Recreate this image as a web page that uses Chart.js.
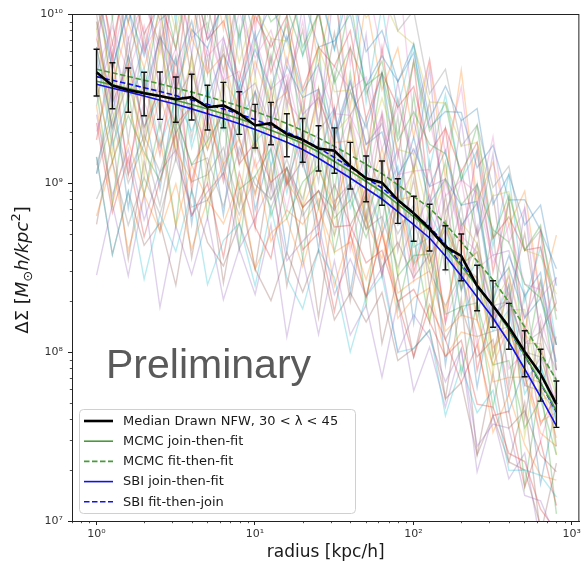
<!DOCTYPE html>
<html>
<head>
<meta charset="utf-8">
<script src="https://cdn.jsdelivr.net/npm/chart.js@4/dist/chart.umd.min.js"></script>
<style>
  html, body { margin: 0; padding: 0; background: #fff; }
  #wrap { width: 584px; height: 564px; }
</style>
</head>
<body>
<div id="wrap"><canvas id="profile" width="584" height="564"></canvas></div>
<script>
// radii (kpc/h), 30 bins from 1 to 800
const radius = [1.0, 1.259, 1.586, 1.997, 2.514, 3.166, 3.986, 5.019, 6.322, 7.961,
  10.03, 12.62, 15.90, 20.02, 25.21, 31.74, 39.97, 50.33, 63.38, 79.81,
  100.5, 126.6, 159.4, 200.7, 252.7, 318.3, 400.8, 504.7, 635.5, 800];

// median of the drawn NFW profiles, with its error bar ends
const medianDrawn = [4.52e9, 3.77e9, 3.55e9, 3.40e9, 3.27e9, 3.13e9, 3.22e9, 2.81e9, 2.88e9, 2.58e9,
  2.19e9, 2.26e9, 1.95e9, 1.80e9, 1.60e9, 1.55e9, 1.26e9, 1.066e9, 1.004e9, 7.93e8,
  6.62e8, 5.36e8, 4.20e8, 3.70e8, 2.46e8, 1.877e8, 1.411e8, 1.004e8, 7.41e7, 4.92e7];
const medianHigh = [6.18e9, 5.15e9, 4.79e9, 4.52e9, 4.54e9, 4.24e9, 4.40e9, 3.79e9, 3.94e9, 3.47e9,
  2.92e9, 3.00e9, 2.57e9, 2.41e9, 2.18e9, 2.12e9, 1.74e9, 1.445e9, 1.35e9, 1.06e9,
  8.34e8, 7.48e8, 5.59e8, 4.99e8, 3.26e8, 2.64e8, 1.94e8, 1.337e8, 1.038e8, 6.74e7];
const medianLow = [3.27e9, 2.75e9, 2.62e9, 2.50e9, 2.38e9, 2.29e9, 2.36e9, 2.06e9, 2.12e9, 1.94e9,
  1.61e9, 1.685e9, 1.43e9, 1.326e9, 1.178e9, 1.141e9, 9.21e8, 7.75e8, 7.38e8, 5.77e8,
  4.52e8, 3.96e8, 3.06e8, 2.64e8, 1.756e8, 1.40e8, 1.038e8, 7.14e7, 5.12e7, 3.58e7];

// fitted profiles
const mcmcJoinThenFit = [4.00e9, 3.81e9, 3.62e9, 3.44e9, 3.26e9, 3.09e9, 2.915e9, 2.74e9, 2.57e9, 2.40e9,
  2.225e9, 2.053e9, 1.884e9, 1.713e9, 1.526e9, 1.34e9, 1.175e9, 1.021e9, 8.88e8, 7.51e8,
  6.32e8, 5.27e8, 4.18e8, 3.23e8, 2.46e8, 1.872e8, 1.364e8, 9.60e7, 6.58e7, 4.48e7];
const mcmcFitThenFit = [4.71e9, 4.49e9, 4.27e9, 4.06e9, 3.86e9, 3.65e9, 3.45e9, 3.25e9, 3.05e9, 2.85e9,
  2.65e9, 2.45e9, 2.25e9, 2.045e9, 1.847e9, 1.647e9, 1.463e9, 1.289e9, 1.137e9, 9.76e8,
  8.32e8, 7.11e8, 5.72e8, 4.48e8, 3.455e8, 2.67e8, 1.977e8, 1.406e8, 9.86e7, 6.83e7];
const sbiJoinThenFit = [3.84e9, 3.64e9, 3.46e9, 3.27e9, 3.09e9, 2.92e9, 2.745e9, 2.57e9, 2.405e9, 2.24e9,
  2.07e9, 1.905e9, 1.74e9, 1.578e9, 1.40e9, 1.227e9, 1.07e9, 9.28e8, 8.04e8, 6.78e8,
  5.68e8, 4.73e8, 3.70e8, 2.82e8, 2.116e8, 1.589e8, 1.146e8, 7.93e7, 5.42e7, 3.65e7];
const sbiFitThenJoin = [4.26e9, 4.05e9, 3.86e9, 3.66e9, 3.48e9, 3.29e9, 3.10e9, 2.92e9, 2.74e9, 2.56e9,
  2.37e9, 2.185e9, 2.00e9, 1.816e9, 1.613e9, 1.415e9, 1.237e9, 1.074e9, 9.32e8, 7.87e8,
  6.60e8, 5.51e8, 4.33e8, 3.31e8, 2.49e8, 1.882e8, 1.364e8, 9.49e7, 6.52e7, 4.42e7];

// individual drawn profiles, as deviations from the median in 0.01 dex
const drawOffsets = [
  [55,10,48,22,60,5,40,35,62,12,45,20,58,28,50,8,44,30,65,15,38,25,57,18,49,3,42,33,60,20],
  [-5,-45,-10,-38,0,-30,-50,-8,-35,-15,-42,2,-28,-40,-12,-33,5,-25,-45,-2,-30,-10,-38,8,-20,-35,0,-15,-28,-5],
  [85,40,95,50,70,30,88,45,100,60,75,35,92,55,80,42,98,50,72,38,90,58,85,45,95,40,78,60,88,50],
  [-30,-75,-40,-85,-50,-20,-70,-45,-90,-35,-60,-80,-25,-65,-50,-95,-40,-70,-30,-60,-85,-45,-55,-75,-35,-65,-50,-80,-40,-60],
  [30,-15,20,-5,35,0,15,-10,40,10,25,-2,45,15,30,5,50,20,35,10,55,25,40,15,60,30,45,20,55,35],
  [15,-25,5,-30,10,-20,-5,-35,0,-15,-40,-8,-30,-12,-45,-20,-35,-10,-50,-25,-38,-15,-55,-30,-42,-20,-60,-35,-48,-40],
  [50,15,60,25,45,5,55,30,40,10,52,20,35,0,48,22,30,-5,42,15,25,-10,38,12,20,-12,30,5,18,-5],
  [-60,-20,-55,-30,-65,-15,-50,-40,-25,-55,-10,-45,-20,-35,5,-30,-10,-25,10,-15,0,-20,15,-5,5,-10,20,0,10,15],
  [25,-20,10,-30,30,-5,20,-25,15,5,-15,25,-10,20,-35,10,30,-20,5,-10,28,-25,15,-5,20,-30,10,25,-15,5],
  [-50,-100,-60,-110,-70,-90,-55,-105,-80,-65,-95,-50,-85,-100,-60,-75,-110,-70,-55,-90,-80,-60,-100,-65,-75,-50,-85,-70,-60,-55],
  [100,60,110,75,95,55,105,80,90,65,115,70,100,85,95,60,108,75,90,70,100,65,95,80,105,60,90,75,100,70],
  [45,0,40,15,50,5,35,20,30,-5,38,10,25,-10,30,5,15,-15,20,0,10,-20,15,-10,5,-25,0,-15,-5,-20],
  [-5,-45,-15,-35,-50,-10,-40,-20,-5,-45,-30,-15,-50,-25,-10,-40,-20,-35,-5,-45,-25,-15,-40,-30,-10,-35,-20,-45,-15,-30],
  [60,25,70,35,55,30,75,40,50,20,65,45,70,30,60,50,80,35,65,55,75,45,70,50,85,40,65,60,75,55],
  [-25,-65,-35,-75,-45,-30,-70,-50,-40,-80,-55,-35,-75,-60,-45,-85,-55,-70,-50,-90,-60,-65,-80,-55,-95,-70,-60,-85,-75,-80],
  [35,-30,30,-25,40,-35,25,-20,35,-30,20,-40,30,-15,35,-35,25,-25,40,-30,20,-35,30,-20,35,-30,25,-40,30,-25],
  [0,35,10,40,5,30,-5,45,15,25,0,40,20,10,35,-5,30,15,40,0,25,35,5,45,10,30,20,0,35,15],
  [-75,-45,-80,-50,-70,-35,-65,-55,-40,-60,-30,-50,-20,-45,-25,-35,-10,-30,-5,-20,5,-15,10,-5,20,0,15,5,25,20],
  [80,45,90,60,75,40,85,55,65,30,70,50,55,25,60,35,45,15,50,30,35,5,40,20,25,0,30,10,15,5],
  [10,-35,-5,15,-30,0,-20,10,-40,-5,20,-25,5,-15,-35,15,-10,0,-30,10,-20,-5,15,-35,0,-15,10,-25,5,-10],
  [40,10,50,0,35,20,45,5,30,15,55,0,40,25,35,10,50,20,30,5,45,15,40,30,50,10,35,20,45,25],
  [-85,-45,-95,-60,-80,-50,-90,-55,-70,-40,-85,-65,-50,-75,-35,-60,-45,-70,-30,-55,-40,-25,-50,-35,-20,-45,-30,-15,-35,-25],
  [95,55,100,65,85,50,90,70,80,45,85,60,75,50,80,40,70,55,65,35,60,50,55,30,60,45,50,40,45,35],
  [20,-10,15,-20,5,-15,-5,-25,0,-30,-10,-35,-20,-40,-25,-45,-35,-50,-40,-60,-45,-55,-65,-50,-70,-60,-75,-65,-80,-75],
  [-15,25,-5,30,-20,15,-10,35,0,-25,20,-5,30,-15,10,25,-20,15,-5,30,-10,20,0,-15,25,-5,15,-20,10,0],
  [-50,-100,-60,-90,-75,-110,-55,-80,-95,-65,-85,-105,-70,-90,-60,-100,-75,-85,-65,-95,-80,-60,-90,-75,-100,-65,-80,-70,-90,-75],
  [20,60,30,55,25,65,35,50,15,60,40,55,30,70,25,50,45,60,20,55,35,65,30,45,55,25,60,40,50,35],
  [-55,-15,-50,-25,-45,-10,-40,-30,-60,-20,-35,-45,-15,-40,-25,-50,-10,-30,-20,-40,-5,-25,-35,-10,-30,-15,0,-20,-10,-5],
  [120,90,130,100,115,85,125,95,110,80,120,100,105,90,125,85,115,95,110,100,100,75,85,65,85,65,80,60,70,65],
  [15,-25,20,-20,0,25,-30,10,-15,20,-10,0,-35,15,-5,25,-25,5,-10,20,-30,10,0,-20,15,-10,25,-15,5,-5],
  [35,65,40,70,45,55,75,40,60,80,50,70,55,85,60,65,90,55,75,70,95,60,80,85,70,95,75,90,85,80],
  [-20,-70,-30,-60,-25,-75,-40,-55,-35,-65,-20,-70,-45,-50,-30,-80,-40,-60,-25,-70,-50,-35,-65,-45,-30,-75,-40,-55,-60,-45],
  [60,-10,70,0,55,-20,65,5,75,-15,50,10,70,-5,60,-25,55,0,65,-10,70,5,50,-20,60,0,75,-10,55,5],
  [-40,20,-50,10,-35,25,-55,0,-45,15,-60,20,-30,5,-50,25,-40,-5,-55,15,-35,10,-45,20,-50,0,-40,15,-30,5],
  [10,90,20,80,0,85,25,95,5,75,30,90,15,80,10,100,20,85,5,70,25,95,10,80,30,90,0,85,20,75],
  [-90,-30,-100,-40,-80,-20,-95,-35,-105,-45,-85,-25,-90,-40,-100,-30,-80,-20,-95,-45,-85,-35,-90,-25,-100,-40,-80,-30,-95,-35],
  [70,130,60,120,80,140,65,115,75,135,55,125,70,110,80,130,60,120,75,140,55,100,55,100,45,100,50,85,45,75],
  [-20,40,-30,35,-10,45,-25,30,-35,50,-15,40,-30,25,-20,45,-10,35,-25,50,-30,40,-15,30,-20,45,-35,35,-10,40],
  [30,-40,20,-50,35,-30,25,-45,15,-55,30,-35,20,-40,35,-50,25,-30,15,-45,30,-55,20,-35,25,-40,35,-50,20,-30],
  [110,50,120,60,100,45,115,55,105,40,125,65,110,50,100,60,120,45,105,55,100,35,90,45,80,35,90,30,75,35],
  [-60,0,-70,-10,-55,5,-75,-5,-65,10,-50,-15,-70,0,-60,5,-75,-10,-55,0,-65,10,-70,-5,-60,5,-50,-10,-65,0],
  [50,100,40,90,55,105,35,95,45,110,60,85,40,100,50,95,35,105,55,90,45,100,40,110,50,85,60,95,45,100],
  [-10,-70,0,-60,-15,-75,5,-65,-5,-80,0,-55,-20,-70,5,-60,-10,-75,0,-65,-15,-55,5,-70,-10,-60,0,-80,-5,-65],
  [75,15,85,25,70,10,80,20,90,5,75,30,65,15,85,20,70,10,80,25,90,15,70,5,80,20,75,10,85,20],
  [-120,-70,-110,-60,-125,-75,-105,-65,-115,-80,-100,-60,-120,-70,-110,-65,-100,-75,-115,-60,-105,-70,-95,-55,-110,-65,-90,-60,-100,-70],
  [25,65,15,55,30,70,10,60,20,75,5,50,25,65,15,70,30,55,10,60,25,75,20,50,30,65,15,70,25,60],
  [-35,5,-45,-5,-30,10,-50,0,-40,15,-25,-10,-45,5,-35,10,-50,-5,-30,0,-40,15,-45,-10,-35,5,-25,0,-40,10],
  [140,100,150,110,135,95,145,105,130,120,150,100,140,110,135,95,145,115,130,100,120,80,105,65,95,70,95,60,85,60]
];

const xTicks = [1, 10, 100, 1000];
const yTicks = [1e7, 1e8, 1e9, 1e10];
const tickText = {1: "10\u2070", 10: "10\u00b9", 100: "10\u00b2", 1000: "10\u00b3",
  1e7: "10\u2077", 1e8: "10\u2078", 1e9: "10\u2079", 1e10: "10\u00b9\u2070"};

const tab10 = ["31,119,180", "255,127,14", "44,160,44", "214,39,40", "148,103,189",
  "140,86,75", "227,119,194", "127,127,127", "188,189,34", "23,190,207"];

function pts(arr) {
  return radius.map((r, i) => ({ x: r, y: arr[i] }));
}

const GREEN = "#4a9a3c";
const BLUE = "#1212e6";

let datasets = [
  { label: "Median Drawn NFW, 30 < \u03bb < 45", data: pts(medianDrawn), borderColor: "#000", borderWidth: 2.6, order: 0 },
  { label: "MCMC join-then-fit", data: pts(mcmcJoinThenFit), borderColor: GREEN, borderWidth: 1.6, order: 1 },
  { label: "MCMC fit-then-fit", data: pts(mcmcFitThenFit), borderColor: GREEN, borderWidth: 1.6, borderDash: [5.5, 2.5], order: 1 },
  { label: "SBI join-then-fit", data: pts(sbiJoinThenFit), borderColor: BLUE, borderWidth: 1.6, order: 1 },
  { label: "SBI fit-then-join", data: pts(sbiFitThenJoin), borderColor: BLUE, borderWidth: 1.6, borderDash: [5.5, 2.5], order: 1 }
];
drawOffsets.forEach((off, k) => {
  datasets.push({
    label: "draw " + k,
    data: radius.map((r, i) => ({ x: r, y: medianDrawn[i] * Math.pow(10, off[i] / 100) })),
    borderColor: "rgba(" + tab10[k % 10] + ",0.3)",
    borderWidth: 1.4,
    order: 5,
    clip: 0
  });
});

// error bars on the median
const errorBars = {
  id: "errorBars",
  afterDatasetsDraw(chart) {
    const c = chart.ctx, xs = chart.scales.x, ys = chart.scales.y;
    c.save();
    c.strokeStyle = "#111";
    c.lineWidth = 1.4;
    for (let i = 0; i < radius.length; i++) {
      const px = xs.getPixelForValue(radius[i]);
      const top = ys.getPixelForValue(medianHigh[i]);
      const bot = ys.getPixelForValue(medianLow[i]);
      c.beginPath();
      c.moveTo(px, top); c.lineTo(px, bot);
      c.moveTo(px - 3, top); c.lineTo(px + 3, top);
      c.moveTo(px - 3, bot); c.lineTo(px + 3, bot);
      c.stroke();
    }
    c.restore();
  }
};

// frame, minor ticks, watermark, y title, legend
const decor = {
  id: "decor",
  afterDraw(chart) {
    const c = chart.ctx, a = chart.chartArea, xs = chart.scales.x, ys = chart.scales.y;
    c.save();
    c.strokeStyle = "#222";
    c.lineWidth = 1;
    c.strokeRect(a.left + 0.5, a.top + 0.5, a.right - a.left - 1, a.bottom - a.top);

    c.lineWidth = 0.8;
    c.beginPath();
    [0.1, 1, 10, 100].forEach(d => {
      for (let m = 2; m <= 9; m++) {
        const v = m * d;
        if (v < xs.min || v > xs.max) continue;
        const px = Math.round(xs.getPixelForValue(v)) + 0.5;
        c.moveTo(px, a.bottom); c.lineTo(px, a.bottom + 2.2);
      }
    });
    [1e7, 1e8, 1e9].forEach(d => {
      for (let m = 2; m <= 9; m++) {
        const py = Math.round(ys.getPixelForValue(m * d)) + 0.5;
        c.moveTo(a.left, py); c.lineTo(a.left - 2.2, py);
      }
    });
    c.stroke();

    // watermark
    c.fillStyle = "#5a5a5a";
    c.font = '41px "Liberation Sans", Arial, sans-serif';
    c.textBaseline = "alphabetic";
    c.fillText("Preliminary", 106, 378);

    // y axis title with math parts
    const parts = [
      { t: "\u0394\u03a3 [", f: '18px "DejaVu Sans"', dy: 0 },
      { t: "M", f: 'italic 18px "DejaVu Sans"', dy: 0 },
      { t: "\u2299", f: '13px "DejaVu Sans"', dy: 4 },
      { t: "h/kpc", f: 'italic 18px "DejaVu Sans"', dy: 0 },
      { t: "2", f: '13px "DejaVu Sans"', dy: -8 },
      { t: "]", f: '18px "DejaVu Sans"', dy: 0 }
    ];
    let w = 0;
    parts.forEach(p => { c.font = p.f; p.w = c.measureText(p.t).width; w += p.w; });
    c.translate(28, 270);
    c.rotate(-Math.PI / 2);
    c.fillStyle = "#1a1a1a";
    let x = -w / 2;
    parts.forEach(p => { c.font = p.f; c.fillText(p.t, x, p.dy); x += p.w; });
    c.setTransform(1, 0, 0, 1, 0, 0);

    // legend
    const bx = 79.5, by = 409.5, bw = 276, bh = 104, r = 4;
    c.beginPath();
    c.moveTo(bx + r, by);
    c.arcTo(bx + bw, by, bx + bw, by + bh, r);
    c.arcTo(bx + bw, by + bh, bx, by + bh, r);
    c.arcTo(bx, by + bh, bx, by, r);
    c.arcTo(bx, by, bx + bw, by, r);
    c.closePath();
    c.fillStyle = "rgba(255,255,255,0.8)";
    c.fill();
    c.strokeStyle = "#d0d0d0";
    c.lineWidth = 1;
    c.stroke();
    c.font = '13px "DejaVu Sans"';
    c.textBaseline = "middle";
    for (let k = 0; k < 5; k++) {
      const ds = chart.data.datasets[k];
      const ly = 421 + 20.2 * k;
      c.strokeStyle = ds.borderColor;
      c.lineWidth = ds.borderWidth;
      c.setLineDash(ds.borderDash || []);
      c.beginPath();
      c.moveTo(84, ly); c.lineTo(113, ly);
      c.stroke();
      c.setLineDash([]);
      c.fillStyle = "#1a1a1a";
      c.fillText(ds.label, 123, ly + 0.5);
    }
    c.restore();
  }
};

new Chart(document.getElementById("profile"), {
  type: "line",
  data: { datasets: datasets },
  options: {
    responsive: false,
    animation: false,
    parsing: true,
    layout: { padding: { top: 14, right: 3, left: 0, bottom: 0 } },
    elements: { point: { radius: 0 }, line: { tension: 0, fill: false } },
    plugins: { legend: { display: false }, tooltip: { enabled: false } },
    scales: {
      x: {
        type: "logarithmic",
        min: 0.716,
        max: 1117,
        afterBuildTicks(scale) { scale.ticks = xTicks.map(v => ({ value: v, major: true })); },
        afterFit(scale) { scale.height = 43; },
        grid: { drawOnChartArea: false, drawTicks: true, tickLength: 4, tickColor: "#222", tickWidth: 1 },
        border: { color: "#222", width: 1 },
        ticks: {
          autoSkip: false, maxRotation: 0, padding: 3, color: "#333",
          font: { family: "DejaVu Sans", size: 11 },
          callback: v => tickText[v] || ""
        },
        title: {
          display: true, text: "radius [kpc/h]", color: "#1a1a1a",
          font: { family: "DejaVu Sans", size: 17 }, padding: { top: 0, bottom: 1 }
        }
      },
      y: {
        type: "logarithmic",
        min: 1e7,
        max: 1e10,
        afterBuildTicks(scale) { scale.ticks = yTicks.map(v => ({ value: v, major: true })); },
        afterFit(scale) { scale.width = 72; },
        grid: { drawOnChartArea: false, drawTicks: true, tickLength: 4, tickColor: "#222", tickWidth: 1 },
        border: { color: "#222", width: 1 },
        ticks: {
          autoSkip: false, padding: 5, color: "#333",
          font: { family: "DejaVu Sans", size: 11 },
          callback: v => tickText[v] || ""
        }
      }
    }
  },
  plugins: [errorBars, decor]
});
</script>
</body>
</html>
